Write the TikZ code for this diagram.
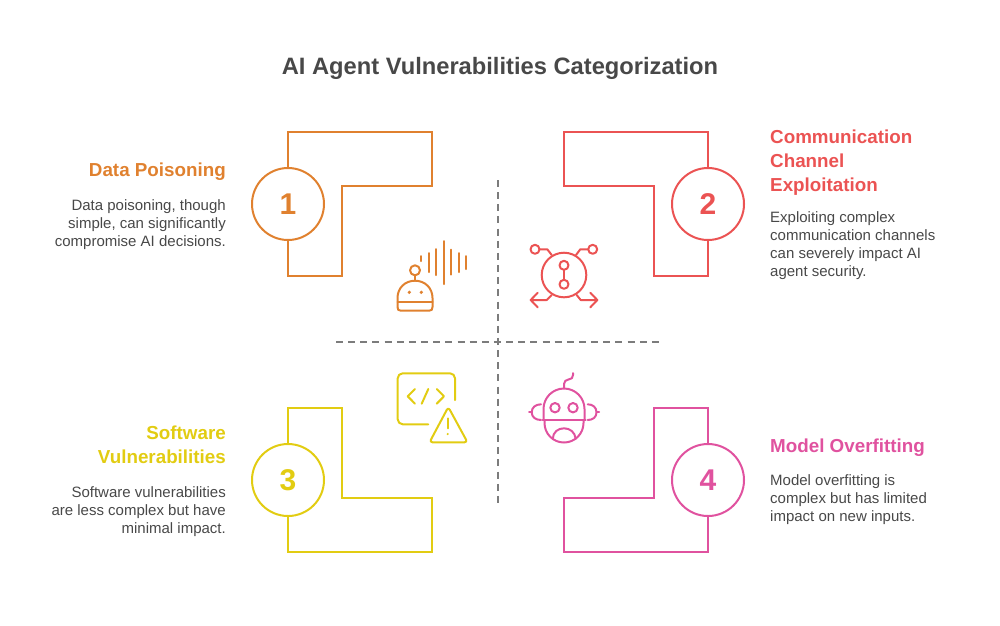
\documentclass[tikz,border=0pt]{standalone}
\usepackage{fontspec}
\setmainfont{Liberation Sans}
\usetikzlibrary{positioning}
\definecolor{inkgray}{HTML}{484848}
\definecolor{dashgray}{HTML}{7C7C7C}
\definecolor{orangeA}{HTML}{E0812F}
\definecolor{redB}{HTML}{EB5353}
\definecolor{yellowC}{HTML}{E2CC12}
\definecolor{pinkD}{HTML}{E0529F}
\tikzset{
    numcircle/.style = {shape=circle, draw, line width=2pt, minimum size=72pt, inner sep=0pt,
            font=\fontsize{30}{30}\selectfont\bfseries},
    frame/.style = {line width=2.2pt, line join=miter},
    dashline/.style = {dashgray, line width=2pt, dash pattern=on 7pt off 5.15pt},
    icon/.style = {line width=2pt, line cap=round, line join=round},
    headL/.style = {anchor=north east, align=right, inner sep=0pt, font=\fontsize{18.8}{24}\selectfont\bfseries},
    headR/.style = {anchor=north west, align=left, inner sep=0pt, font=\fontsize{18.8}{24}\selectfont\bfseries},
    bodyL/.style = {anchor=north east, align=right, inner sep=0pt, text=inkgray, font=\fontsize{15}{18}\selectfont},
    bodyR/.style = {anchor=north west, align=left, inner sep=0pt, text=inkgray, font=\fontsize{15}{18}\selectfont}
}
\begin{document}
\begin{tikzpicture}[x=1pt, y=-1pt]
    \useasboundingbox (0,0) rectangle (1000,625);
    \node[inner sep=0pt, text=inkgray, font=\fontsize{23.7}{28}\selectfont\bfseries] (title) at (500,68) {AI Agent Vulnerabilities Categorization};

    % numbered circles
    \node[numcircle, orangeA] (one) at (288,204) {1};
    \node[numcircle, redB] (two) at (708,204) {2};
    \node[numcircle, yellowC] (three) at (288,480) {3};
    \node[numcircle, pinkD] (four) at (708,480) {4};

    % frames
    \draw[frame, orangeA] (one.north) -- (288,132) -- (432,132) -- (432,186) -- (342,186) -- (342,276) -- (288,276) -- (one.south);
    \draw[frame, redB] (two.north) -- (708,132) -- (564,132) -- (564,186) -- (654,186) -- (654,276) -- (708,276) -- (two.south);
    \draw[frame, yellowC] (three.north) -- (288,408) -- (342,408) -- (342,498) -- (432,498) -- (432,552) -- (288,552) -- (three.south);
    \draw[frame, pinkD] (four.north) -- (708,408) -- (654,408) -- (654,498) -- (564,498) -- (564,552) -- (708,552) -- (four.south);

    % dashed cross
    \coordinate (vtop) at (498,180);
    \coordinate (vbot) at (498,504);
    \coordinate (hleft) at (336,342);
    \coordinate (hright) at (660,342);
    \draw[dashline] (vtop) -- (vbot);
    \draw[dashline] (hleft) -- (hright);

    % texts
    \node[headL, orangeA] (headone) at (226,163) {Data Poisoning};
    \node[bodyL] (bodyone) at (226,199) {Data poisoning, though\\simple, can significantly\\compromise AI decisions.};
    \node[headR, redB] (headtwo) at (770,129.5) {Communication\\Channel\\Exploitation};
    \node[bodyR] (bodytwo) at (770,211) {Exploiting complex\\communication channels\\can severely impact AI\\agent security.};
    \node[headL, yellowC] (headthree) at (226,426) {Software\\Vulnerabilities};
    \node[bodyL] (bodythree) at (226,486) {Software vulnerabilities\\are less complex but have\\minimal impact.};
    \node[headR, pinkD] (headfour) at (770,439) {Model Overfitting};
    \node[bodyR] (bodyfour) at (770,474) {Model overfitting is\\complex but has limited\\impact on new inputs.};

    % icon one
    \begin{scope}[icon, orangeA]
        \foreach \bx/\by/\bh in {421.3/258.5/2.5, 429/262.5/9.5, 436.3/262/13, 444/262.5/21.5, 451.3/262/12.5, 459/262.5/9.5, 466.3/262.5/6.5}
            \draw (\bx,\by-\bh) -- (\bx,\by+\bh);
        \draw (415,270.3) circle (5);
        \draw (415,275.3) -- (415,280.7);
        \draw (397.5,298) .. controls (397.5,288) and (405,280.7) .. (415,280.7) .. controls (425,280.7) and (432.5,288) .. (432.5,298)
            -- (432.5,307) .. controls (432.5,309.7) and (431.5,310.7) .. (429,310.7) -- (401,310.7) .. controls (398.5,310.7) and (397.5,309.7) .. (397.5,307) -- cycle;
        \draw (397.5,301.7) -- (432.5,301.7);
        \fill (409.3,292.3) circle (1.8);
        \fill (421.3,292.3) circle (1.8);
    \end{scope}

    % icon two
    \begin{scope}[icon, redB]
        \draw (564,275) circle (22.3);
        \draw (564,265.3) circle (4.5);
        \draw (564,284.3) circle (4.5);
        \draw (564,269.8) -- (564,279.8);
        \draw (535,249.3) circle (4.5);
        \draw (592.7,249.3) circle (4.5);
        \draw (539.5,249.3) -- (547.3,249.3) -- (551.7,255);
        \draw (588.2,249.3) -- (580.3,249.3) -- (576,255);
        \draw (551.7,295) -- (546.7,300) -- (530.7,300);
        \draw (537.7,292.7) -- (530.7,300) -- (537.7,307.3);
        \draw (576.7,295) -- (580.7,300) -- (597.3,300);
        \draw (590.3,292.7) -- (597.3,300) -- (590.3,307.3);
    \end{scope}

    % icon three
    \begin{scope}[icon, yellowC]
        \draw[rounded corners=5pt] (428.3,424.3) -- (397.7,424.3) -- (397.7,373.3) -- (455,373.3) -- (455,400);
        \draw (415,389) -- (407.7,396.3) -- (415,403.7);
        \draw (428.3,389) -- (421.7,403.7);
        \draw (436.7,389) -- (444,396.3) -- (436.7,403.7);
        \draw[rounded corners=3pt] (448.3,407) -- (467.5,442.3) -- (429.5,442.3) -- cycle;
        \draw (447.7,418.3) -- (447.7,428.3);
        \fill (447.7,434) circle (1.2);
    \end{scope}

    % icon four
    \begin{scope}[icon, pinkD]
        \draw (542.5,420) -- (585.5,420);
        \draw (543.5,420) -- (543.5,409) arc[start angle=180, end angle=0, radius=20.5pt] -- (584.5,420);
        \draw (544.5,420) -- (544.5,423) arc[start angle=180, end angle=360, radius=19.5pt] -- (583.5,420);
        \draw (552.7,439) .. controls (553,432) and (558,428.3) .. (564,428.3) .. controls (570,428.3) and (575,432) .. (575.7,439);
        \draw (555,407.7) circle (4.7);
        \draw (573,407.7) circle (4.7);
        \draw (541,404.3) .. controls (535.5,404.3) and (531.7,407.5) .. (531.7,412.3) .. controls (531.7,417) and (535.5,420) .. (541,420);
        \draw (529,412.3) -- (531.7,412.3);
        \draw (587.7,404.3) .. controls (593,404.3) and (596.5,407.5) .. (596.5,412.3) .. controls (596.5,417) and (593,420) .. (587.7,420);
        \draw (596.5,412.3) -- (599,412.3);
        \draw (564,387.7) -- (564,384) .. controls (564,381) and (566,380) .. (568.5,379.5) .. controls (571.5,379) and (573,378) .. (573,375) -- (573,373);
    \end{scope}
\end{tikzpicture}
\end{document}
